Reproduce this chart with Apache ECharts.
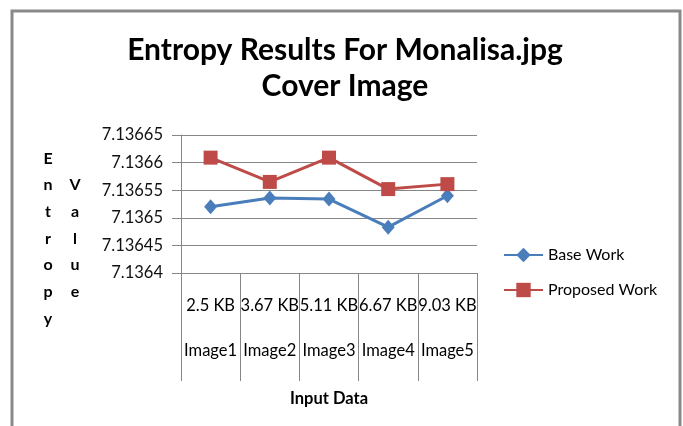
<!DOCTYPE html>
<html>
<head>
<meta charset="utf-8">
<script src="https://cdn.jsdelivr.net/npm/echarts@6/dist/echarts.min.js"></script>
<style>
html,body{margin:0;padding:0;background:#fff;}
#chart{width:683px;height:426px;}
</style>
</head>
<body>
<div id="chart"></div>
<script>
const sizes = ['2.5 KB', '3.67 KB', '5.11 KB', '6.67 KB', '9.03 KB'];
const images = ['Image1', 'Image2', 'Image3', 'Image4', 'Image5'];
const baseWork = [7.13652, 7.136536, 7.136534, 7.136483, 7.13654];
const proposedWork = [7.136609, 7.136565, 7.136609, 7.136552, 7.136561];
const yTicks = { min: 7.1364, max: 7.13665, interval: 0.00005 };
const titleText = 'Entropy Results For Monalisa.jpg\nCover Image';
const xName = 'Input Data';
const yNameCol1 = 'Entropy';
const yNameCol2 = 'Value';

const FONT = 'Lato, "Open Sans", sans-serif';
const chart = echarts.init(document.getElementById('chart'), null, { renderer: 'canvas' });

const catLabels = sizes.map((s, i) => s + '\n' + images[i]);

const option = {
  backgroundColor: '#ffffff',
  animation: false,
  title: {
    text: titleText,
    left: 340,
    top: 27,
    textAlign: 'center',
    textStyle: { fontFamily: FONT, fontWeight: 'bold', fontSize: 30, lineHeight: 36, color: '#000' }
  },
  legend: {
    orient: 'vertical',
    left: 503,
    top: 247,
    padding: 0,
    itemWidth: 39,
    itemHeight: 18,
    itemGap: 19,
    textStyle: { fontFamily: FONT, fontSize: 16, color: '#000' },
    data: ['Base Work', 'Proposed Work']
  },
  grid: { left: 181, right: 206, top: 135, bottom: 153, containLabel: false },
  xAxis: {
    type: 'category',
    data: catLabels,
    boundaryGap: true,
    name: xName,
    nameLocation: 'middle',
    nameGap: 117,
    nameTextStyle: { fontFamily: FONT, fontWeight: 'bold', fontSize: 16.5, color: '#000' },
    axisLine: { show: true, lineStyle: { color: '#868686', width: 1 } },
    axisTick: { show: true, interval: 0, length: 108, lineStyle: { color: '#868686', width: 1 } },
    axisLabel: {
      interval: 0,
      margin: 10,
      lineHeight: 45,
      fontFamily: FONT,
      fontSize: 16.5,
      color: '#000'
    },
    splitLine: { show: false }
  },
  yAxis: {
    type: 'value',
    min: yTicks.min,
    max: yTicks.max,
    interval: yTicks.interval,
    axisLine: { show: true, lineStyle: { color: '#868686', width: 1 } },
    axisTick: { show: true, inside: false, length: 9, lineStyle: { color: '#868686' } },
    axisLabel: {
      margin: 18,
      fontFamily: FONT,
      fontSize: 16.5,
      color: '#111',
      formatter: v => parseFloat(v.toFixed(5)).toString()
    },
    splitLine: { show: true, lineStyle: { color: '#868686', width: 1 } }
  },
  series: [
    {
      name: 'Base Work',
      type: 'line',
      data: baseWork,
      symbol: 'diamond',
      symbolSize: [13, 15],
      itemStyle: { color: '#4A7EBB' },
      lineStyle: { color: '#4A7EBB', width: 3 }
    },
    {
      name: 'Proposed Work',
      type: 'line',
      data: proposedWork,
      symbol: 'rect',
      symbolSize: 14,
      itemStyle: { color: '#BE4B48' },
      lineStyle: { color: '#BE4B48', width: 3 }
    }
  ],
  graphic: [
    {
      type: 'rect',
      z: -10,
      shape: { x: 12, y: 11, width: 668, height: 440 },
      style: { fill: 'none', stroke: '#898989', lineWidth: 3 }
    },
    {
      type: 'text',
      x: 48, y: 145,
      style: {
        text: yNameCol1.split('').join('\n'),
        font: 'bold 16px ' + FONT,
        lineHeight: 26.7,
        align: 'center',
        verticalAlign: 'top',
        fill: '#000'
      }
    },
    {
      type: 'text',
      x: 75, y: 171.7,
      style: {
        text: yNameCol2.split('').join('\n'),
        font: 'bold 16px ' + FONT,
        lineHeight: 26.7,
        align: 'center',
        verticalAlign: 'top',
        fill: '#000'
      }
    }
  ]
};
chart.setOption(option);
</script>
</body>
</html>
